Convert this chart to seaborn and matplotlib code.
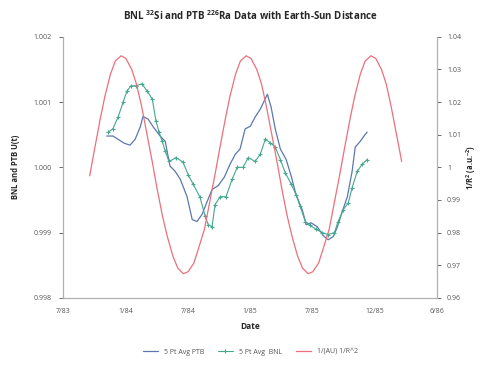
import matplotlib
matplotlib.use("Agg")
import matplotlib.pyplot as plt
import matplotlib.dates as mdates
import numpy as np
import pandas as pd
import seaborn as sns

# 5 point averages
ptb_dates = ["1983-11-20", "1983-12-08", "1983-12-23", "1984-01-10", "1984-01-27", "1984-02-11",
             "1984-02-26", "1984-03-05", "1984-03-20", "1984-04-04", "1984-04-24", "1984-05-09",
             "1984-05-23", "1984-06-07", "1984-06-22", "1984-07-12", "1984-07-27", "1984-08-10",
             "1984-08-25", "1984-09-09", "1984-09-23", "1984-10-11", "1984-10-29", "1984-11-15",
             "1984-11-30", "1984-12-14", "1984-12-29", "1985-01-13", "1985-01-27", "1985-02-11",
             "1985-02-23", "1985-03-04", "1985-03-15", "1985-03-27", "1985-04-11", "1985-04-28",
             "1985-05-13", "1985-05-27", "1985-06-14", "1985-06-26", "1985-07-10", "1985-07-28",
             "1985-08-15", "1985-08-29", "1985-09-13", "1985-09-25", "1985-10-09", "1985-10-24",
             "1985-11-07", "1985-11-16", "1985-12-01", "1985-12-13", "1985-12-21"]
ptb_values = [1.00048, 1.00048, 1.00043, 1.00037, 1.00034, 1.00043,
              1.00062, 1.00078, 1.00074, 1.00062, 1.00048, 1.00040,
              1.00002, 0.99994, 0.99982, 0.99955, 0.99920, 0.99917,
              0.99928, 0.99948, 0.99966, 0.99972, 0.99985, 1.00005,
              1.00020, 1.00028, 1.00059, 1.00063, 1.00077, 1.00089,
              1.00102, 1.00112, 1.00092, 1.00059, 1.00028, 1.00012,
              0.99986, 0.99958, 0.99935, 0.99912, 0.99915, 0.99909,
              0.99895, 0.99889, 0.99894, 0.99909, 0.99932, 0.99955,
              0.99994, 1.00031, 1.00040, 1.00049, 1.00054]

bnl_dates = ["1983-11-24", "1983-12-08", "1983-12-23", "1984-01-07", "1984-01-18", "1984-01-30",
             "1984-02-14", "1984-03-02", "1984-03-17", "1984-04-01", "1984-04-12", "1984-04-21",
             "1984-04-30", "1984-05-09", "1984-05-20", "1984-06-10", "1984-06-30", "1984-07-15",
             "1984-07-30", "1984-08-19", "1984-09-03", "1984-09-12", "1984-09-23", "1984-10-02",
             "1984-10-17", "1984-11-03", "1984-11-21", "1984-12-06", "1984-12-23", "1985-01-07",
             "1985-01-27", "1985-02-11", "1985-02-26", "1985-03-12", "1985-03-27", "1985-04-11",
             "1985-04-25", "1985-05-13", "1985-05-27", "1985-06-08", "1985-06-23", "1985-07-07",
             "1985-07-25", "1985-08-12", "1985-08-29", "1985-09-16", "1985-09-27", "1985-10-12",
             "1985-10-27", "1985-11-07", "1985-11-22", "1985-12-07", "1985-12-21"]
bnl_values = [1.00054, 1.00059, 1.00077, 1.00100, 1.00117, 1.00125,
              1.00125, 1.00128, 1.00117, 1.00105, 1.00071, 1.00054,
              1.00040, 1.00025, 1.00009, 1.00015, 1.00008, 0.99989,
              0.99974, 0.99954, 0.99925, 0.99912, 0.99909, 0.99943,
              0.99955, 0.99955, 0.99982, 1.00000, 1.00000, 1.00015,
              1.00009, 1.00020, 1.00043, 1.00038, 1.00031, 1.00012,
              0.99992, 0.99974, 0.99958, 0.99940, 0.99917, 0.99911,
              0.99905, 0.99900, 0.99897, 0.99900, 0.99917, 0.99935,
              0.99946, 0.99969, 0.99994, 1.00005, 1.00012]

# 1/R^2, 1st and 15th of each month, Oct 1983 - Apr 1986
r2_values = [0.9974, 1.0054, 1.0149, 1.0220, 1.0286, 1.0326,
             1.0342, 1.0334, 1.0300, 1.0255, 1.0187, 1.0111,
             1.0018, 0.9936, 0.9851, 0.9789, 0.9726, 0.9691,
             0.9674, 0.9680, 0.9707, 0.9753, 0.9811, 0.9887,
             0.9974, 1.0054, 1.0149, 1.0220, 1.0286, 1.0326,
             1.0342, 1.0334, 1.0300, 1.0255, 1.0187, 1.0111,
             1.0018, 0.9936, 0.9851, 0.9789, 0.9726, 0.9691,
             0.9674, 0.9680, 0.9707, 0.9753, 0.9811, 0.9887,
             0.9974, 1.0054, 1.0149, 1.0220, 1.0286, 1.0326,
             1.0342, 1.0334, 1.0300, 1.0255, 1.0187, 1.0111,
             1.0018]
r2_dates = pd.date_range("1983-10-01", "1986-04-01", freq="SMS")

tick_labels = ["7/83", "1/84", "7/84", "1/85", "7/85", "12/85", "6/86"]

sns.set_style("white")
plt.rcParams["font.family"] = ["Open Sans", "DejaVu Sans"]
plt.rcParams["mathtext.fontset"] = "custom"
plt.rcParams["mathtext.rm"] = "Open Sans"
plt.rcParams["mathtext.bf"] = "Open Sans:bold"

ptb = pd.DataFrame({"date": pd.to_datetime(ptb_dates), "value": ptb_values})
bnl = pd.DataFrame({"date": pd.to_datetime(bnl_dates), "value": bnl_values})
r2 = pd.DataFrame({"date": r2_dates, "value": r2_values})

fig = plt.figure(figsize=(4.81, 3.65), dpi=100)
ax = fig.add_axes([0.131, 0.184, 0.778, 0.715])
ax2 = ax.twinx()

c_ptb = "#5a78b0"
c_bnl = "#45a88f"
c_r2 = "#ec6f7c"

sns.lineplot(data=ptb, x="date", y="value", ax=ax, color=c_ptb, linewidth=0.9,
             estimator=None, sort=False, label="5 Pt Avg PTB", legend=False)
sns.lineplot(data=bnl, x="date", y="value", ax=ax, color=c_bnl, linewidth=0.8,
             marker="+", markersize=3, markeredgewidth=0.8, markeredgecolor=c_bnl,
             estimator=None, sort=False, label="5 Pt Avg  BNL", legend=False)
sns.lineplot(data=r2, x="date", y="value", ax=ax2, color=c_r2, linewidth=0.9,
             estimator=None, sort=False, label="1/(AU) 1/R^2", legend=False)

start = pd.Timestamp("1983-07-15")
ticks = [mdates.date2num(start + pd.Timedelta(days=182.5 * i)) for i in range(7)]
ax.set_xlim(ticks[0], ticks[-1])
ax.set_xticks(ticks)
ax.set_xticklabels(tick_labels)

ax.set_ylim(0.998, 1.002)
ax.set_yticks([0.998, 0.999, 1.000, 1.001, 1.002])
ax.set_yticklabels(["0.998", "0.999", "1.000", "1.001", "1.002"])
ax2.set_ylim(0.96, 1.04)
ax2.set_yticks([0.96, 0.97, 0.98, 0.99, 1.0, 1.01, 1.02, 1.03, 1.04])
ax2.set_yticklabels(["0.96", "0.97", "0.98", "0.99", "1", "1.01", "1.02", "1.03", "1.04"])

for a in (ax, ax2):
    a.tick_params(axis="both", labelsize=5, colors="#555555", length=3, width=0.6,
                  direction="out", pad=5)
    a.spines["top"].set_visible(False)
    for s in ("left", "right", "bottom"):
        a.spines[s].set_color("#b0b0b0")
        a.spines[s].set_linewidth(0.8)
ax.tick_params(axis="x", length=0, pad=7)
ax2.tick_params(axis="y", pad=4)

ax.set_xlabel("Date", fontsize=6, fontweight="bold", labelpad=5)
ax.set_ylabel("BNL and PTB U(t)", fontsize=5.5, fontweight="bold", labelpad=10)
ax2.set_ylabel("1/R$^\\mathbf{2}$ (a.u.$^\\mathbf{-2}$)", fontsize=5.5, fontweight="bold",
               labelpad=2)
ax.set_title("BNL $^{\\mathbf{32}}$Si and PTB $^{\\mathbf{226}}$Ra Data with Earth-Sun Distance",
             fontsize=7, fontweight="bold", pad=12)

h1, l1 = ax.get_legend_handles_labels()
h2, l2 = ax2.get_legend_handles_labels()
fig.legend(h1 + h2, l1 + l2, loc="center", bbox_to_anchor=(0.52, 0.035), ncol=3,
           frameon=False, fontsize=5, handlelength=2.2, columnspacing=2.0,
           labelcolor="#555555")

fig.savefig("out.png", dpi=100)
